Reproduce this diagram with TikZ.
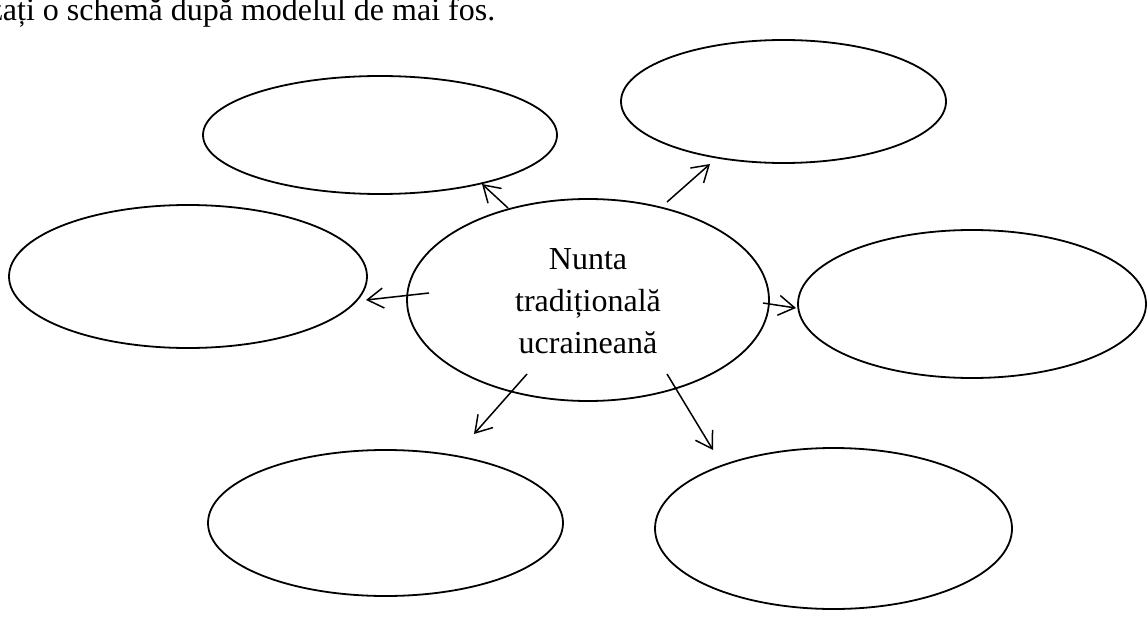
\documentclass[tikz,border=0pt]{standalone}
\usepackage{fontspec}
\setmainfont{Liberation Serif}
\usetikzlibrary{shapes.geometric,arrows.meta}
\begin{document}
\begin{tikzpicture}[x=1pt,y=-1pt,
  oval/.style={draw,ellipse,line width=1.8pt,inner sep=0pt},
  link/.style={line width=1.5pt,-{Straight Barb[length=16pt,width=20pt,line width=1.5pt]}},
  every node/.style={font=\fontsize{32}{42}\selectfont}]
\useasboundingbox (0,0) rectangle (1147,639);
\begin{scope}
\clip (0,0) rectangle (1147,639);
\node[anchor=base west,inner sep=0pt] (title) at (-11.5,21) {zați o schemă după modelul de mai fos.};
\end{scope}
\node[oval,minimum width=354pt,minimum height=118pt] (tl) at (380,135) {};
\node[oval,minimum width=325pt,minimum height=123pt] (tr) at (783.5,101.5) {};
\node[oval,minimum width=358pt,minimum height=143pt] (l) at (188,276.5) {};
\node[oval,minimum width=362pt,minimum height=202pt] (c) at (588,300) {};
\node[align=center,inner sep=0pt,anchor=center] (ctext) at (588,301) {Nunta\\tradițională\\ucraineană};
\node[oval,minimum width=348pt,minimum height=148pt] (r) at (972,304) {};
\node[oval,minimum width=355pt,minimum height=146pt] (bl) at (385.5,523) {};
\node[oval,minimum width=357pt,minimum height=161pt] (br) at (833.5,528.5) {};
\coordinate (s1) at (508,208); \coordinate (e1) at (482,184);
\coordinate (s2) at (667,202); \coordinate (e2) at (710,164);
\coordinate (s3) at (429,293); \coordinate (e3) at (366,300);
\coordinate (s4) at (763,303); \coordinate (e4) at (796,308);
\coordinate (s5) at (527,374); \coordinate (e5) at (474,434);
\coordinate (s6) at (667,374); \coordinate (e6) at (713,450);
\draw[link] (s1) -- (e1);
\draw[link] (s2) -- (e2);
\draw[link] (s3) -- (e3);
\draw[link] (s4) -- (e4);
\draw[link] (s5) -- (e5);
\draw[link] (s6) -- (e6);
\end{tikzpicture}
\end{document}
